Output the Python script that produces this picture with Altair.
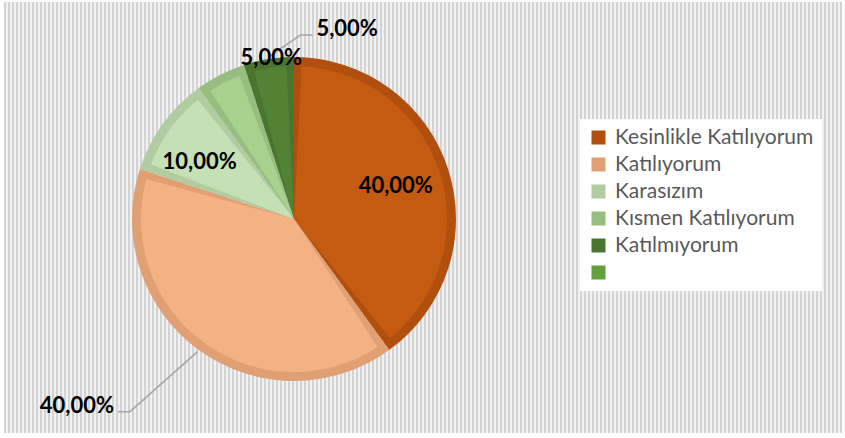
import math
import altair as alt
import pandas as pd

# ---------------- data ----------------
categories = ["Kesinlikle Katılıyorum", "Katılıyorum", "Karasızım",
              "Kısmen Katılıyorum", "Katılmıyorum", " "]
values = [40, 40, 10, 5, 5, 0]
labels = ["40,00%", "40,00%", "10,00%", "5,00%", "5,00%", ""]

# ---------------- style ----------------
main_colors = ["#C55A11", "#F4B183", "#C5E0B4", "#A9D18E", "#548235", "#70AD47"]
edge_colors = ["#B14F0E", "#E0A073", "#B1CCA0", "#97BE7E", "#4A7530", "#63A03E"]

W, H = 845, 438
CX, CY = 294, 219
R = 162
R_IN = 153

# label layout: (kind, angle shift from slice middle, radius)
label_layout = [
    ("inside", 0, 107),
    ("left", 4.4, 253),
    ("inside", -5, 110),
    ("inside", 19, 163),
    ("right", 11, 184),
    ("none", 0, 0),
]

total = sum(values)
rows, text_rows, line_rows = [], [], []
cum = 0
for i, (c, v, lab) in enumerate(zip(categories, values, labels)):
    mid = (cum + v / 2) / total * 360
    cum += v
    rows.append({"idx": i, "category": c, "value": v, "main": main_colors[i]})
    kind, shift, rad = label_layout[i]
    if kind == "none":
        continue
    a = math.radians(mid + shift)
    px = CX + rad * math.sin(a)
    py = CY - rad * math.cos(a)
    if kind == "inside":
        text_rows.append({"label": lab, "x": px, "y": py, "align": "center"})
    else:
        am = math.radians(mid)
        sx = CX + (R + 2) * math.sin(am)
        sy = CY - (R + 2) * math.cos(am)
        direction = -1 if kind == "left" else 1
        ex = px + direction * 12
        line_rows += [
            {"id": i, "o": 0, "x": sx, "y": sy},
            {"id": i, "o": 1, "x": px, "y": py},
            {"id": i, "o": 2, "x": ex, "y": py},
        ]
        text_rows.append({"label": lab, "x": ex + direction * 4, "y": py - 6,
                          "align": "right" if kind == "left" else "left"})

df = pd.DataFrame(rows)
tdf = pd.DataFrame(text_rows)
ldf = pd.DataFrame(line_rows)

# ---------------- background stripes ----------------
BX1, BX2, BY1, BY2 = 4, 842, 2, 433
bw = BX2 - BX1
gray, light = "#D3D3D3", "#F1F1F1"
stops = []
for p in range(0, bw, 4):
    o0 = p / bw
    o1 = min((p + 2) / bw, 1)
    o2 = min((p + 4) / bw, 1)
    stops += [alt.GradientStop(offset=o0, color=gray),
              alt.GradientStop(offset=o1, color=gray),
              alt.GradientStop(offset=o1, color=light),
              alt.GradientStop(offset=o2, color=light)]
grad = alt.LinearGradient(gradient="linear", stops=stops, x1=0, x2=1, y1=0, y2=0)

bg = alt.Chart(pd.DataFrame({"a": [0]})).mark_rect(fill=grad, stroke=None).encode(
    x=alt.value(BX1), x2=alt.value(BX2), y=alt.value(BY1), y2=alt.value(BY2)
)

base = alt.Chart(df)
theta = alt.Theta("value:Q", stack=True)
order = alt.Order("idx:Q")

outer = base.mark_arc(outerRadius=R).encode(
    theta=theta,
    order=order,
    x=alt.value(CX),
    y=alt.value(CY),
    color=alt.Color(
        "category:N",
        scale=alt.Scale(domain=categories, range=edge_colors),
        sort=categories,
        legend=alt.Legend(
            title=None, orient="none", legendX=580, legendY=119,
            fillColor="white", padding=8, symbolType="square",
            symbolSize=196, symbolStrokeWidth=0, symbolOpacity=1,
            labelFont="Lato", labelFontSize=21, labelColor="#595959",
            rowPadding=5, labelOffset=6, labelLimit=300,
        ),
    ),
)

inner = base.mark_arc(outerRadius=R_IN, padAngle=0.1).encode(
    theta=theta,
    order=order,
    x=alt.value(CX),
    y=alt.value(CY),
    color=alt.Color("main:N", scale=None),
)

lines = alt.Chart(ldf).mark_line(color="#A6A6A6", strokeWidth=1.5).encode(
    x=alt.X("x:Q", scale=None),
    y=alt.Y("y:Q", scale=None),
    detail="id:N",
    order="o:Q",
)

text_layers = []
for al in ["center", "left", "right"]:
    text_layers.append(
        alt.Chart(tdf).transform_filter(alt.datum.align == al).mark_text(
            align=al, baseline="middle", font="Lato", fontWeight="bold",
            fontSize=22, color="#000000"
        ).encode(
            x=alt.X("x:Q", scale=None),
            y=alt.Y("y:Q", scale=None),
            text="label:N",
        )
    )

chart = alt.layer(bg, outer, inner, lines, *text_layers).properties(
    width=W, height=H, padding=0, autosize="none", background="white"
).configure_view(stroke=None)

chart.save("out.html", embed_options={"renderer": "svg", "actions": False})
